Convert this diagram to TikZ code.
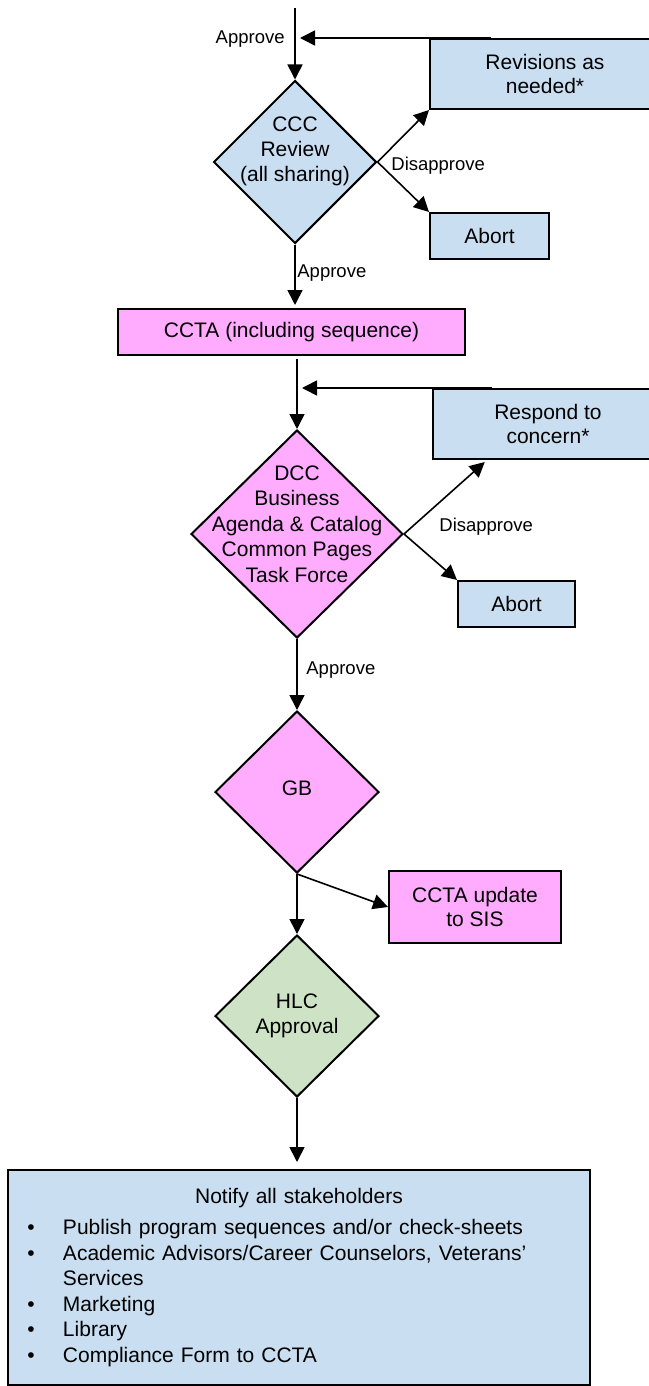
\documentclass[tikz,border=0pt]{standalone}
\usepackage{fontspec}
\setmainfont{Liberation Sans}
\usetikzlibrary{shapes.geometric, arrows.meta, calc}

\definecolor{boxblue}{RGB}{201,222,240}
\definecolor{boxpink}{RGB}{255,171,254}
\definecolor{boxgreen}{RGB}{206,227,198}

% one bulleted line of the stakeholder list
\newcommand{\listline}[1]{\par\noindent\hangindent=27.5pt\hangafter=1\hspace*{9.7pt}\makebox[17.8pt][l]{\textbullet}#1\par}

\begin{document}
\begin{tikzpicture}[x=0.5pt, y=-0.5pt,
  shapeline/.style={draw=black, line width=1pt},
  procbox/.style={shapeline, rectangle, inner sep=0pt, align=center,
    font=\fontsize{10.5pt}{12pt}\selectfont},
  decision/.style={shapeline, diamond, inner sep=0pt},
  dtext/.style={align=center, inner sep=0pt,
    font=\fontsize{10.5pt}{12.5pt}\selectfont},
  flow/.style={draw=black, line width=0.8pt,
    -{Triangle[length=7.5pt, width=7.5pt]}},
  edgelabel/.style={font=\fontsize{9.25pt}{11pt}\selectfont, inner sep=0pt},
]
\useasboundingbox (0,0) rectangle (648,1386);

% ---- review stage ----
\node[decision, fill=boxblue, minimum width=81.5pt, minimum height=81.5pt,
  label={[dtext, yshift=5.5pt]center:{CCC\\Review\\(all sharing)}}] (ccc) at (295,162) {};
\node[procbox, fill=boxblue, minimum width=115pt, minimum height=35pt] (rev) at (545,74) {Revisions as\\needed*};
\node[procbox, fill=boxblue, minimum width=59.5pt, minimum height=23pt] (abortA) at (489.5,236) {Abort};
\node[procbox, fill=boxpink, minimum width=173.5pt, minimum height=23pt] (ccta) at (291.5,332) {CCTA (including sequence)};

% ---- DCC stage ----
\node[procbox, fill=boxblue, minimum width=115pt, minimum height=35pt] (resp) at (548,424) {Respond to\\concern*};
\node[decision, fill=boxpink, minimum width=106pt, minimum height=104pt,
  label={[dtext, yshift=5pt, font=\fontsize{10.5pt}{12.75pt}\selectfont]center:{DCC\\Business\\Agenda \& Catalog\\Common Pages\\Task Force}}] (dcc) at (297,534) {};
\node[procbox, fill=boxblue, minimum width=58.5pt, minimum height=23pt] (abortB) at (516.5,604) {Abort};

% ---- board and accreditation ----
\node[decision, fill=boxpink, minimum width=82pt, minimum height=81pt,
  label={[dtext, yshift=2pt]center:GB}] (gb) at (297,792) {};
\node[procbox, fill=boxpink, minimum width=86pt, minimum height=36pt] (upd) at (475,907) {CCTA update\\to SIS};
\node[decision, fill=boxgreen, minimum width=82pt, minimum height=81pt,
  label={[dtext]center:{HLC\\Approval}}] (hlc) at (297,1016) {};

% ---- final notification ----
\node[shapeline, fill=boxblue, rectangle, inner xsep=0pt, inner ysep=0pt,
  text width=291pt, minimum height=107.5pt, align=left,
  font=\fontsize{10.5pt}{12.75pt}\selectfont] (notify) at (299,1277.5) {%
  {\centering Notify all stakeholders\par}\vspace{2.75pt}%
  \listline{Publish program sequences and/or check-sheets}%
  \listline{Academic Advisors/Career Counselors, Veterans'\newline Services}%
  \listline{Marketing}%
  \listline{Library}%
  \listline{Compliance Form to CCTA}};

% ---- connectors ----
\coordinate (entry) at (295,8);
\coordinate (backA) at (300,38);
\coordinate (backB) at (302,388);

\draw[flow] (entry) -- (ccc.north);
\draw[flow] ($(rev.north west)+(62,0)$) -- (backA);
\draw[flow] (ccc.east) -- (rev.south west);
\draw[flow] (ccc.east) -- (abortA.north west);
\draw[flow, shorten >=1.5pt] (ccc.south) -- (ccc.south |- ccta.north);

\draw[flow, shorten <=1.5pt] (dcc.north |- ccta.south) -- (dcc.north);
\draw[flow] ($(resp.north west)+(60,0)$) -- (backB);
\draw[flow, shorten >=1.5pt] (dcc.east) -- ($(resp.south west)+(55,0)$);
\draw[flow] (dcc.east) -- (abortB.north west);
\draw[flow] (dcc.south) -- (gb.north);

\draw[flow] (gb.south) -- (upd.west);
\draw[flow] (gb.south) -- (hlc.north);
\draw[flow, shorten >=3.5pt] (hlc.south) -- (hlc.south |- notify.north);

% ---- connector labels ----
\node[edgelabel, anchor=base east] (lblA) at (285,43.3) {Approve};
\node[edgelabel, anchor=base west] (lblB) at (391,170) {Disapprove};
\node[edgelabel, anchor=base west] (lblC) at (297,277.7) {Approve};
\node[edgelabel, anchor=base west] (lblD) at (439,531.7) {Disapprove};
\node[edgelabel, anchor=base west] (lblE) at (306,674.3) {Approve};
\end{tikzpicture}
\end{document}
